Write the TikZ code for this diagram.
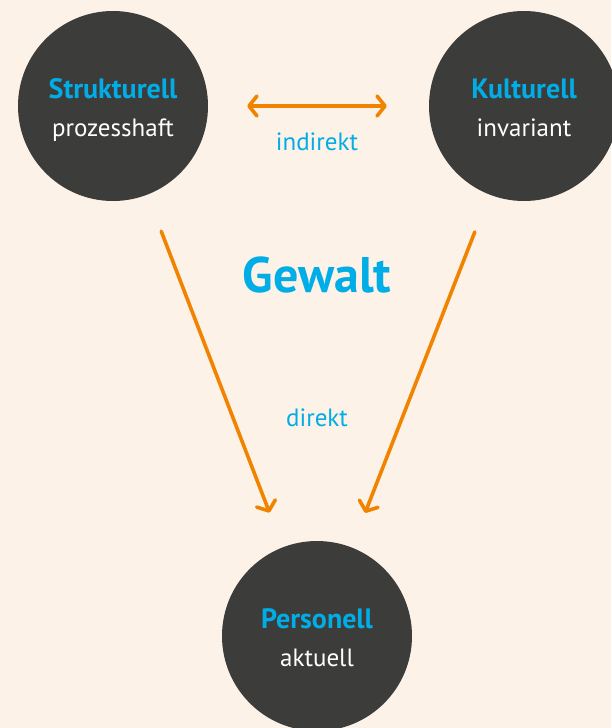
\documentclass[tikz,border=0pt]{standalone}
\usepackage{fontspec}
\setmainfont{PT Sans}
\usepackage{xcolor}
\usepackage{tikz}
\usetikzlibrary{arrows.meta, positioning, calc}
\definecolor{cBG}{HTML}{FDF2E8}
\definecolor{cDARK}{HTML}{3C3C3B}
\definecolor{cBLUE}{HTML}{00ADE6}
\definecolor{cARROW}{HTML}{F08300}
\newcommand{\forcettl}[1]{{\fontsize{28}{38}\bfseries\selectfont\color{cBLUE}\rule{0pt}{34pt}#1}}

\begin{document}
\begin{tikzpicture}[x=1pt, y=-1pt,
  force/.style={circle, fill=cDARK, minimum size=190pt, inner sep=0pt, align=center, text=white,
    font=\fontsize{25}{38}\selectfont},
  link/.style={draw=cARROW, line width=3.6pt, line cap=round,
    arrows={-Straight Barb[length=8pt, width=20pt, line cap=round, line join=round]}},
  lbl/.style={text=cBLUE, font=\fontsize{25}{28}\selectfont}
]
\useasboundingbox[fill=cBG] (0,0) rectangle (611,728);

\node[force] (struk) at (113,106) {\forcettl{Strukturell}\\prozesshaft\strut};
\node[force] (kult)  at (524,106) {\forcettl{Kulturell}\\invariant\strut};
\node[force] (pers)  at (317,636) {\forcettl{Personell}\\aktuell\strut};

\draw[link, arrows={Straight Barb[length=8pt, width=20pt, line cap=round, line join=round]-Straight Barb[length=8pt, width=20pt, line cap=round, line join=round]},
  shorten <=39pt, shorten >=42pt] (struk) -- (kult);
\draw[link, shorten <=39pt, shorten >=37pt] (struk) -- (pers);
\draw[link, shorten <=40pt, shorten >=37pt] (kult) -- (pers);

\node[lbl] (indirekt) at (317,142) {indirekt};
\node[text=cBLUE, font=\fontsize{50}{54}\bfseries\selectfont] (gewalt) at (317,275) {Gewalt};
\node[lbl] (direkt) at (317,418) {direkt};
\end{tikzpicture}
\end{document}
